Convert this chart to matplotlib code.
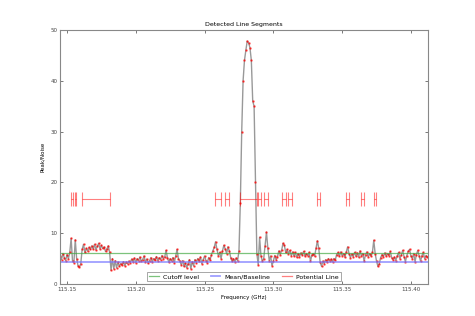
import numpy as np
import matplotlib
matplotlib.use("Agg")
import matplotlib.pyplot as plt

# spectrum: channel start / width (GHz) and peak-to-noise per channel
FREQ_START = 115.145
CHAN_WIDTH = 0.001
snr = [
    5.5, 4.8, 6.0, 5.2, 4.6, 5.8, 5.0, 6.2, 9.0, 4.5,
    4.2, 8.7, 5.0, 3.6, 3.3, 4.0, 6.8, 7.8, 6.2, 7.0,
    6.5, 7.2, 6.8, 7.5, 6.9, 7.8, 6.7, 7.4, 8.0, 6.9,
    7.6, 7.0, 7.3, 6.4, 6.9, 7.5, 6.2, 2.7, 5.0, 3.0,
    4.6, 3.2, 4.3, 3.5, 4.0, 3.8, 4.4, 3.6, 4.3, 4.0,
    4.5, 4.2, 4.9, 4.4, 5.1, 4.2, 5.0, 4.6, 5.3, 4.5,
    4.8, 5.5, 4.3, 4.9, 4.1, 4.6, 5.2, 4.4, 5.0, 4.7,
    5.4, 4.6, 5.2, 4.8, 5.6, 5.0, 5.3, 6.6, 5.2, 4.3,
    5.0, 4.6, 5.2, 4.2, 5.5, 6.8, 5.0, 4.5, 3.8, 4.6,
    3.5, 4.2, 3.2, 4.0, 4.8, 3.0, 4.4, 3.6, 4.8, 4.2,
    5.0, 4.5, 5.3, 4.0, 4.8, 5.5, 4.6, 4.2, 5.2, 4.7,
    5.8, 6.5, 7.2, 8.3, 6.8, 5.6, 6.2, 5.0, 6.5, 7.6,
    6.9, 6.0, 7.3, 6.5, 5.2, 4.5, 5.0, 4.4, 5.1, 4.6,
    6.5, 16.0, 30.0, 40.0, 44.0, 46.0, 47.8, 47.5, 46.5, 44.0,
    36.0, 35.0, 20.0, 6.0, 3.8, 9.2, 5.5, 4.5, 5.0, 7.5,
    10.2, 7.0, 4.6, 5.5, 3.6, 4.5, 5.6, 4.8, 5.4, 6.5,
    5.8, 6.6, 8.0, 7.6, 6.2, 6.8, 6.0, 6.6, 5.6, 6.3,
    5.5, 6.2, 5.3, 6.0, 5.4, 6.1, 5.7, 6.4, 5.5, 6.0,
    5.6, 6.2, 4.5, 5.7, 6.0, 5.5, 7.0, 8.5, 7.0, 4.3,
    3.5, 4.5, 4.0, 4.8, 4.3, 5.0, 4.6, 4.9, 4.4, 5.0,
    4.7, 5.8, 6.2, 5.5, 6.3, 5.6, 6.0, 5.3, 6.3, 7.3,
    6.0, 5.2, 5.9, 5.4, 6.2, 5.5, 6.1, 5.3, 6.5, 5.6,
    6.0, 4.5, 5.8, 6.3, 5.4, 6.0, 5.5, 6.2, 8.6, 6.0,
    4.5, 3.5, 4.0, 5.2, 5.8, 5.4, 6.1, 5.5, 6.0, 5.6,
    6.4, 5.2, 4.8, 5.3, 4.6, 5.5, 6.2, 5.0, 5.7, 6.6,
    5.4, 4.4, 5.6, 6.4, 6.8, 5.5, 5.0, 6.0, 4.4, 5.8,
    6.6, 5.5, 4.5, 5.6, 6.2, 5.0, 5.6, 5.3,
]

cutoff_level = 6.1
baseline = 4.4
segment_level = 16.7

# detected potential line segments (start, end) in GHz
seg_start = [115.1529, 115.1556, 115.1609, 115.2579, 115.2645, 115.2754,
             115.2885, 115.2929, 115.3060, 115.3104, 115.3315, 115.3527,
             115.3636, 115.3731]
seg_end = [115.1546, 115.1562, 115.1813, 115.2623, 115.2681, 115.2878,
           115.2907, 115.2958, 115.3089, 115.3133, 115.3337, 115.3548,
           115.3658, 115.3745]


def main():
    freq = FREQ_START + CHAN_WIDTH * np.arange(len(snr))

    fig = plt.figure(figsize=(4.75, 3.16), dpi=100)
    ax = fig.add_axes([0.1263, 0.1013, 0.7747, 0.8038])

    ax.plot(freq, snr, color="black", alpha=0.4, lw=1.0)
    ax.plot(freq, snr, ".", color="red", ms=1.6, alpha=0.6)

    ax.axhline(cutoff_level, color="#44aa44", alpha=0.7, lw=0.9, label="Cutoff level")
    ax.axhline(baseline, color="#7777ff", alpha=0.7, lw=1.3, label="Mean/Baseline")

    s = np.array(seg_start)
    e = np.array(seg_end)
    ax.errorbar((s + e) / 2, [segment_level] * len(s), xerr=(e - s) / 2,
                fmt="none", ecolor="red", alpha=0.5, elinewidth=0.8,
                capsize=5, capthick=0.8)
    ax.plot([], [], color="red", alpha=0.5, lw=0.9, label="Potential Line")

    ax.set_xlim(115.1449, 115.4124)
    ax.set_ylim(0, 50)
    ax.set_xticks([115.15, 115.20, 115.25, 115.30, 115.35, 115.40])
    ax.set_xticklabels(["115.15", "115.20", "115.25", "115.30", "115.35", "115.40"])
    ax.set_yticks([0, 10, 20, 30, 40, 50])
    ax.tick_params(direction="in", top=True, right=True, length=2.5,
                   width=0.5, labelsize=4, pad=2, colors="#444444")
    for sp in ax.spines.values():
        sp.set_color("#888888")
        sp.set_linewidth(0.8)

    ax.set_title("Detected Line Segments", fontsize=4.5, pad=3)
    ax.set_xlabel("Frequency (GHz)", fontsize=4, labelpad=2)
    ax.set_ylabel("Peak/Noise", fontsize=4, labelpad=4)

    leg = ax.legend(loc="lower center", ncol=3, fontsize=4.5, frameon=True,
                    fancybox=False, borderaxespad=0.4, handlelength=1.5,
                    handletextpad=0.7, columnspacing=1.9, borderpad=0.3)
    leg.get_frame().set_edgecolor("#666666")
    leg.get_frame().set_linewidth(0.5)

    fig.savefig("out.png", dpi=100)
    plt.close(fig)


if __name__ == "__main__":
    main()
